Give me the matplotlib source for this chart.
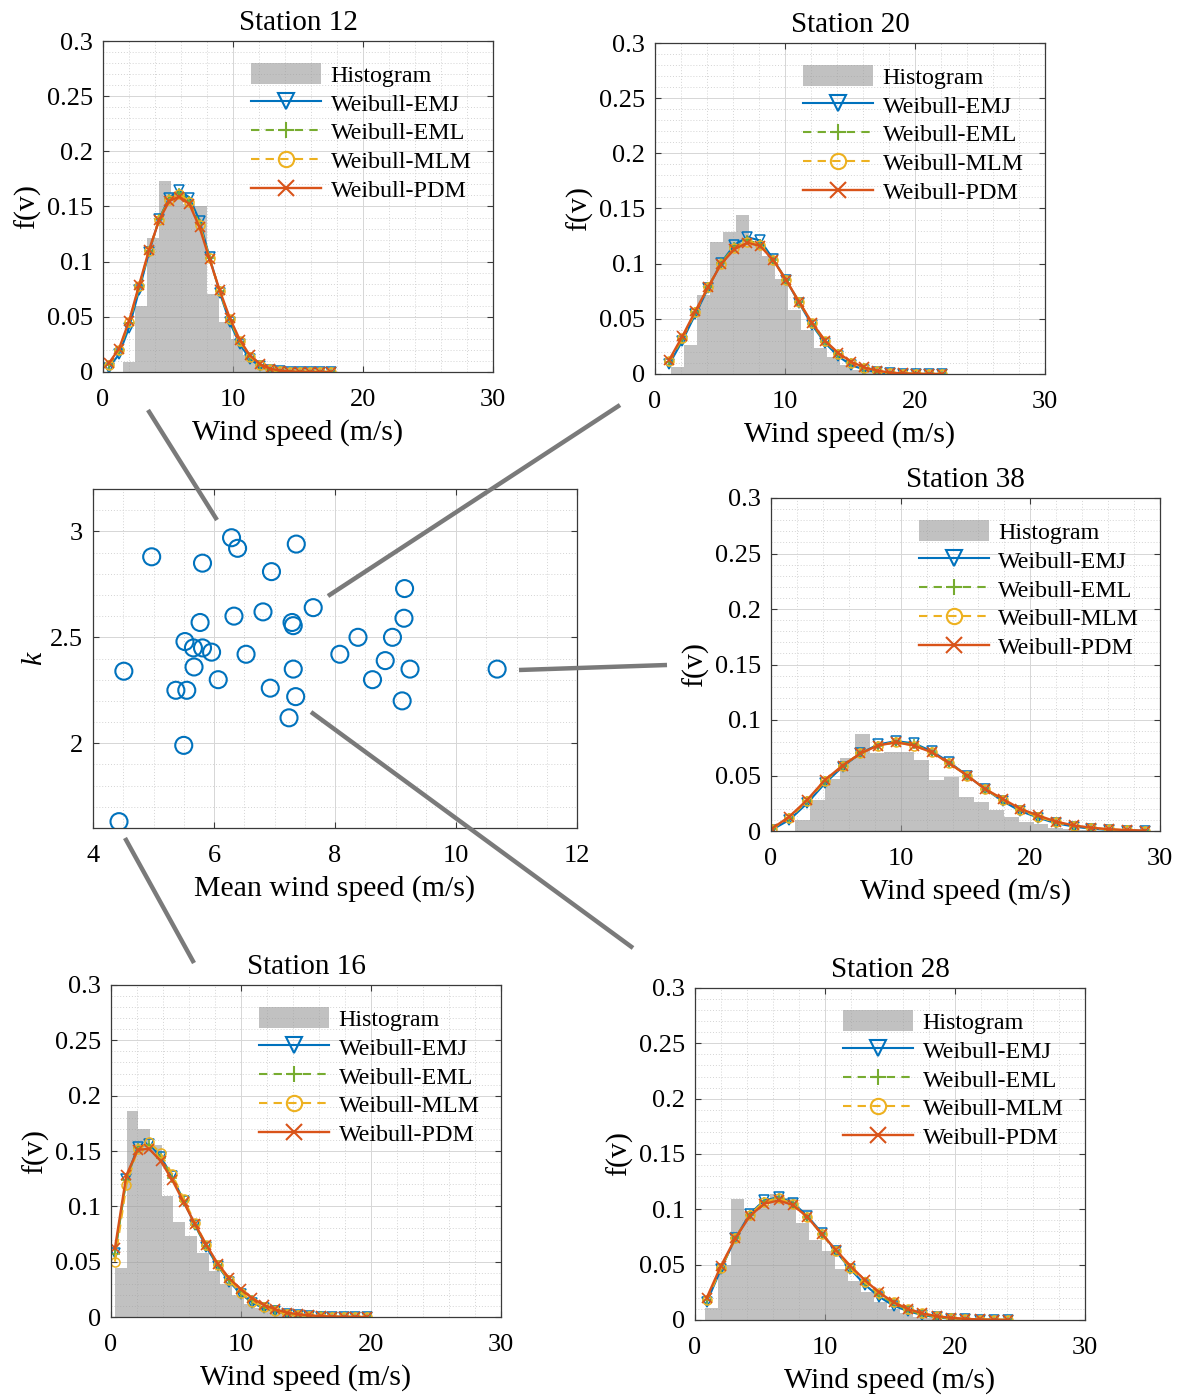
import matplotlib
matplotlib.use("Agg")
import matplotlib.pyplot as plt
from matplotlib.lines import Line2D
from matplotlib.ticker import MultipleLocator

plt.rcParams['font.family'] = ['Liberation Serif', 'DejaVu Serif']

W, H = 1191, 1397

# mean wind speed and Weibull shape k for every station
mean_speed = [4.97, 6.29, 6.39, 7.36, 5.81, 6.95, 9.15, 7.64, 6.81, 6.33, 9.14, 5.77, 7.29,
              7.31, 8.38, 8.95, 5.52, 5.66, 5.81, 5.96, 6.53, 8.08, 8.83, 4.51, 5.67, 7.31,
              9.24, 10.68, 6.07, 8.62, 6.93, 5.37, 5.55, 7.35, 9.11, 7.24, 5.50, 4.43]
shape_k = [2.88, 2.97, 2.92, 2.94, 2.85, 2.81, 2.73, 2.64, 2.62, 2.60, 2.59, 2.57, 2.57,
           2.555, 2.50, 2.50, 2.48, 2.45, 2.45, 2.43, 2.42, 2.42, 2.39, 2.34, 2.36, 2.35,
           2.35, 2.35, 2.30, 2.30, 2.26, 2.25, 2.25, 2.22, 2.20, 2.12, 1.99, 1.63]

# station 12
s12_v = [0.45, 1.23, 2.0, 2.78, 3.55, 4.33, 5.1, 5.88, 6.65, 7.43, 8.2, 8.98, 9.75, 10.53,
         11.3, 12.08, 12.85, 13.63, 14.4, 15.18, 15.95, 16.73, 17.5]
s12_emj = [0.004, 0.016, 0.040, 0.074, 0.109, 0.139, 0.158, 0.165, 0.158, 0.137, 0.104, 0.072,
           0.045, 0.025, 0.012, 0.005, 0.002, 0.0006, 0.0002, 0, 0, 0, 0]
s12_eml = [0.006, 0.019, 0.044, 0.077, 0.110, 0.139, 0.157, 0.162, 0.155, 0.134, 0.103, 0.073,
           0.047, 0.027, 0.014, 0.006, 0.0025, 0.0009, 0.0003, 0.0001, 0, 0, 0]
s12_mlm = [0.006, 0.020, 0.045, 0.078, 0.110, 0.138, 0.156, 0.161, 0.154, 0.133, 0.103, 0.073,
           0.048, 0.028, 0.014, 0.006, 0.0026, 0.001, 0.0003, 0.0001, 0, 0, 0]
s12_pdm = [0.008, 0.021, 0.046, 0.079, 0.111, 0.138, 0.155, 0.159, 0.152, 0.131, 0.102, 0.074,
           0.049, 0.029, 0.015, 0.007, 0.003, 0.0012, 0.0004, 0.0001, 0, 0, 0]
s12_edges = [1.56, 2.48, 3.4, 4.32, 5.24, 6.16, 7.08, 8.0, 8.92, 9.84, 10.76, 11.68, 12.6,
             13.52, 14.44]
s12_hist = [0.009, 0.060, 0.121, 0.173, 0.162, 0.152, 0.150, 0.071, 0.045, 0.030, 0.015,
            0.006, 0.003, 0.001]

# station 20
s20_v = [1.1, 2.1, 3.1, 4.1, 5.1, 6.1, 7.1, 8.1, 9.1, 10.1, 11.1, 12.1, 13.1, 14.1, 15.1,
         16.1, 17.1, 18.1, 19.1, 20.1, 21.1, 22.1]
s20_emj = [0.009, 0.030, 0.054, 0.078, 0.101, 0.117, 0.124, 0.121, 0.104, 0.085, 0.064, 0.044,
           0.028, 0.016, 0.008, 0.004, 0.0015, 0.0005, 0.0002, 0, 0, 0]
s20_eml = [0.011, 0.032, 0.056, 0.079, 0.101, 0.115, 0.121, 0.118, 0.103, 0.085, 0.065, 0.045,
           0.029, 0.018, 0.010, 0.005, 0.0022, 0.0009, 0.0003, 0.0001, 0, 0]
s20_mlm = [0.012, 0.033, 0.056, 0.079, 0.100, 0.114, 0.120, 0.117, 0.103, 0.085, 0.065, 0.046,
           0.030, 0.018, 0.010, 0.005, 0.0025, 0.001, 0.0004, 0.0001, 0, 0]
s20_pdm = [0.013, 0.034, 0.057, 0.079, 0.100, 0.113, 0.119, 0.116, 0.103, 0.085, 0.065, 0.046,
           0.030, 0.019, 0.011, 0.006, 0.003, 0.0013, 0.0005, 0.0002, 0.0001, 0]
s20_edges = [1.2, 2.2, 3.2, 4.2, 5.2, 6.2, 7.2, 8.2, 9.2, 10.2, 11.2, 12.2, 13.2, 14.2, 15.2,
             16.2, 17.2, 18.2]
s20_hist = [0.006, 0.026, 0.072, 0.120, 0.129, 0.144, 0.117, 0.107, 0.086, 0.058, 0.040,
            0.024, 0.015, 0.008, 0.004, 0.002, 0.001]

# station 38
s38_v = [0.05, 1.42, 2.79, 4.16, 5.53, 6.9, 8.27, 9.64, 11.01, 12.38, 13.75, 15.12, 16.49,
         17.86, 19.23, 20.6, 21.97, 23.34, 24.71, 26.08, 27.45, 28.82]
s38_emj = [0.001, 0.010, 0.025, 0.043, 0.058, 0.070, 0.078, 0.081, 0.079, 0.072, 0.062, 0.050,
           0.038, 0.027, 0.018, 0.012, 0.007, 0.004, 0.002, 0.001, 0.0004, 0.0002]
s38_eml = [0.002, 0.012, 0.027, 0.045, 0.059, 0.070, 0.077, 0.080, 0.078, 0.071, 0.061, 0.050,
           0.038, 0.028, 0.019, 0.013, 0.008, 0.0045, 0.0025, 0.0013, 0.0006, 0.0003]
s38_mlm = [0.002, 0.012, 0.027, 0.045, 0.059, 0.070, 0.077, 0.080, 0.077, 0.071, 0.061, 0.050,
           0.038, 0.028, 0.019, 0.013, 0.008, 0.0047, 0.0026, 0.0014, 0.0007, 0.0003]
s38_pdm = [0.002, 0.013, 0.028, 0.046, 0.059, 0.070, 0.077, 0.080, 0.077, 0.071, 0.061, 0.050,
           0.038, 0.029, 0.020, 0.014, 0.0085, 0.005, 0.003, 0.0016, 0.0008, 0.0004]
s38_edges = [1.85, 3.0, 4.15, 5.3, 6.45, 7.6, 8.75, 9.9, 11.05, 12.2, 13.35, 14.5, 15.65,
             16.8, 17.95, 19.1, 20.25, 21.4, 22.55, 23.7, 24.85]
s38_hist = [0.010, 0.028, 0.047, 0.066, 0.087, 0.070, 0.071, 0.071, 0.064, 0.046, 0.049,
            0.031, 0.026, 0.019, 0.013, 0.008, 0.006, 0.003, 0.002, 0.001]

# station 16
s16_v = [0.3, 1.18, 2.06, 2.94, 3.82, 4.7, 5.58, 6.46, 7.34, 8.22, 9.1, 9.98, 10.86, 11.74,
         12.62, 13.5, 14.38, 15.26, 16.14, 17.02, 17.9, 18.78, 19.66]
s16_emj = [0.058, 0.125, 0.154, 0.156, 0.145, 0.127, 0.105, 0.083, 0.063, 0.046, 0.032, 0.021,
           0.013, 0.008, 0.005, 0.003, 0.0015, 0.0008, 0.0004, 0.0002, 0.0001, 0, 0]
s16_eml = [0.057, 0.124, 0.153, 0.155, 0.144, 0.126, 0.105, 0.083, 0.064, 0.047, 0.033, 0.023,
           0.015, 0.009, 0.006, 0.003, 0.0018, 0.001, 0.0005, 0.0002, 0.0001, 0, 0]
s16_mlm = [0.050, 0.119, 0.152, 0.158, 0.148, 0.129, 0.107, 0.085, 0.065, 0.047, 0.033, 0.022,
           0.014, 0.009, 0.005, 0.003, 0.0016, 0.0008, 0.0004, 0.0002, 0.0001, 0, 0]
s16_pdm = [0.062, 0.128, 0.151, 0.152, 0.141, 0.124, 0.104, 0.084, 0.065, 0.048, 0.035, 0.025,
           0.017, 0.011, 0.007, 0.004, 0.0025, 0.0015, 0.0008, 0.0004, 0.0002, 0.0001, 0]
s16_edges = [0.3, 1.2, 2.1, 3.0, 3.9, 4.8, 5.7, 6.6, 7.5, 8.4, 9.3, 10.2, 11.1, 12.0, 12.9,
             13.8, 14.7]
s16_hist = [0.044, 0.186, 0.170, 0.155, 0.109, 0.086, 0.073, 0.058, 0.042, 0.030, 0.020,
            0.012, 0.008, 0.005, 0.003, 0.0015]

# station 28
s28_v = [0.9, 2.0, 3.11, 4.22, 5.32, 6.43, 7.53, 8.64, 9.74, 10.85, 11.95, 13.06, 14.16,
         15.27, 16.37, 17.48, 18.58, 19.69, 20.79, 21.9, 23.0, 24.11]
s28_emj = [0.016, 0.046, 0.074, 0.096, 0.108, 0.111, 0.106, 0.094, 0.079, 0.062, 0.046, 0.032,
           0.021, 0.013, 0.008, 0.0045, 0.0024, 0.0012, 0.0006, 0.0003, 0.0001, 0]
s28_eml = [0.018, 0.047, 0.074, 0.095, 0.107, 0.110, 0.105, 0.093, 0.078, 0.062, 0.047, 0.034,
           0.023, 0.015, 0.009, 0.005, 0.003, 0.0016, 0.0008, 0.0004, 0.0002, 0.0001]
s28_mlm = [0.018, 0.047, 0.074, 0.095, 0.107, 0.110, 0.105, 0.093, 0.078, 0.062, 0.047, 0.034,
           0.024, 0.016, 0.010, 0.006, 0.0033, 0.0018, 0.0009, 0.0004, 0.0002, 0.0001]
s28_pdm = [0.020, 0.049, 0.074, 0.094, 0.105, 0.108, 0.104, 0.093, 0.078, 0.063, 0.049, 0.036,
           0.025, 0.016, 0.010, 0.006, 0.0035, 0.002, 0.001, 0.0005, 0.0002, 0.0001]
s28_edges = [0.8, 1.8, 2.8, 3.8, 4.8, 5.8, 6.8, 7.8, 8.8, 9.8, 10.8, 11.8, 12.8, 13.8, 14.8,
             15.8, 16.8, 17.8, 18.8]
s28_hist = [0.011, 0.050, 0.109, 0.098, 0.104, 0.114, 0.110, 0.088, 0.072, 0.062, 0.046,
            0.035, 0.025, 0.016, 0.010, 0.006, 0.003, 0.0015]

C_EMJ = '#0072BD'
C_EML = '#77AC30'
C_MLM = '#EDB120'
C_PDM = '#D95319'
SPINE = '#3a3a3a'


def px_rect(left, top, right, bottom):
    # axes box given in figure pixels (origin top-left)
    return [left / W, 1 - bottom / H, (right - left) / W, (bottom - top) / H]


def style_axes(ax):
    for sp in ax.spines.values():
        sp.set_color(SPINE)
        sp.set_linewidth(0.9)
    ax.tick_params(which='major', direction='in', length=4, width=0.8, color=SPINE,
                   top=True, right=True, labelsize=19)
    ax.tick_params(axis='x', which='major', pad=12)
    ax.tick_params(axis='y', which='major', pad=7)
    ax.tick_params(which='minor', length=0)
    ax.grid(which='major', color='#d6d6d6', lw=0.7, ls='-')
    ax.grid(which='minor', color='#d4d4d4', lw=0.7, ls=(0, (1, 2)))
    ax.set_axisbelow(True)


def draw_station(fig, rect, title, v, edges, hist, emj, eml, mlm, pdm):
    ax = fig.add_axes(rect)
    widths = [b - a for a, b in zip(edges[:-1], edges[1:])]
    bars = ax.bar(edges[:-1], hist, width=widths, align='edge', color=(0.6, 0.6, 0.6),
                  alpha=0.6, linewidth=0)
    l1, = ax.plot(v, emj, '-', color=C_EMJ, marker='v', mfc='none', ms=6.5, mew=1.1, lw=1.5)
    l2, = ax.plot(v, eml, color=C_EML, ls=(0, (4, 3)), marker='+', ms=7.5, mew=1.1, lw=1.5)
    l3, = ax.plot(v, mlm, color=C_MLM, ls=(0, (4, 3)), marker='o', mfc='none', ms=6.5,
                  mew=1.1, lw=1.5)
    l4, = ax.plot(v, pdm, '-', color=C_PDM, marker='x', ms=6.5, mew=1.2, lw=1.7)
    ax.set_xlim(0, 30)
    ax.set_ylim(0, 0.3)
    ax.set_xticks([0, 10, 20, 30])
    ax.set_yticks([0, 0.05, 0.1, 0.15, 0.2, 0.25, 0.3])
    ax.set_yticklabels(['0', '0.05', '0.1', '0.15', '0.2', '0.25', '0.3'])
    ax.xaxis.set_minor_locator(MultipleLocator(2))
    ax.yaxis.set_minor_locator(MultipleLocator(0.01))
    style_axes(ax)
    ax.set_title(title, fontsize=21, pad=8)
    ax.set_xlabel('Wind speed (m/s)', fontsize=21.5, labelpad=6)
    ax.set_ylabel('f(v)', fontsize=21.5, labelpad=4)
    leg = ax.legend([bars, l1, l2, l3, l4],
                    ['Histogram', 'Weibull-EMJ', 'Weibull-EML', 'Weibull-MLM', 'Weibull-PDM'],
                    loc='upper left', bbox_to_anchor=(0.368, 0.948), frameon=False,
                    fontsize=17.3, handlelength=2.9, handleheight=0.95, handletextpad=0.4,
                    labelspacing=0.22, borderaxespad=0, borderpad=0.2, numpoints=1)
    for h in leg.legend_handles[1:]:
        h.set_markersize(11)
        h.set_markeredgewidth(1.5)
    return ax


fig = plt.figure(figsize=(W / 100, H / 100), dpi=100)

draw_station(fig, px_rect(103, 41, 493, 372), 'Station 12',
             s12_v, s12_edges, s12_hist, s12_emj, s12_eml, s12_mlm, s12_pdm)
draw_station(fig, px_rect(655, 43, 1045, 374), 'Station 20',
             s20_v, s20_edges, s20_hist, s20_emj, s20_eml, s20_mlm, s20_pdm)
draw_station(fig, px_rect(771, 498, 1160, 831), 'Station 38',
             s38_v, s38_edges, s38_hist, s38_emj, s38_eml, s38_mlm, s38_pdm)
draw_station(fig, px_rect(111, 985, 501, 1317), 'Station 16',
             s16_v, s16_edges, s16_hist, s16_emj, s16_eml, s16_mlm, s16_pdm)
draw_station(fig, px_rect(695, 988, 1085, 1320), 'Station 28',
             s28_v, s28_edges, s28_hist, s28_emj, s28_eml, s28_mlm, s28_pdm)

# k against mean wind speed
ax = fig.add_axes(px_rect(93, 489, 577, 828))
ax.scatter(mean_speed, shape_k, s=150, facecolors='none', edgecolors=C_EMJ, linewidths=1.5,
           zorder=3)
ax.set_xlim(4, 12)
ax.set_ylim(1.6, 3.2)
ax.set_xticks([4, 6, 8, 10, 12])
ax.set_yticks([2, 2.5, 3])
ax.set_yticklabels(['2', '2.5', '3'])
ax.xaxis.set_minor_locator(MultipleLocator(0.5))
ax.yaxis.set_minor_locator(MultipleLocator(0.1))
style_axes(ax)
ax.set_xlabel('Mean wind speed (m/s)', fontsize=21.5, labelpad=6)
ax.set_ylabel('k', fontsize=21.5, style='italic', labelpad=2)

# connectors from the scatter to each station panel (figure pixels)
links = [((148, 410), (217, 520)),
         ((620, 405), (328, 596)),
         ((519, 670), (667, 665)),
         ((311, 712), (633, 948)),
         ((125, 838), (194, 963))]
for (x0, y0), (x1, y1) in links:
    fig.add_artist(Line2D([x0 / W, x1 / W], [1 - y0 / H, 1 - y1 / H],
                          transform=fig.transFigure, color='#7a7a7a', lw=3.2,
                          solid_capstyle='butt'))

fig.savefig('out.png', dpi=100)
